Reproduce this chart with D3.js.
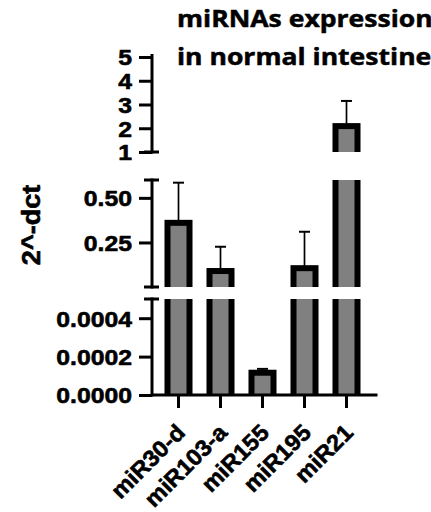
<!DOCTYPE html>
<html>
<head>
<meta charset="utf-8">
<script src="https://cdn.jsdelivr.net/npm/d3@7"></script>
<style>
  html, body { margin: 0; padding: 0; background: #fff; }
  svg { display: block; }
</style>
</head>
<body>
<svg id="chart" width="431" height="512"></svg>
<script>
// Relative expression (2^-dCt) per miRNA, mean and SD
const categories = ["miR30-d", "miR103-a", "miR155", "miR195", "miR21"];
const means = [0.36, 0.09, 0.000116, 0.106, 2.09];
const sds = [0.225, 0.136, 0.00002, 0.204, 1.06];

// Broken y axis: three stacked segments, bottom to top
const bottomDomain = [0, 0.0005];
const bottomTicks = [0, 0.0002, 0.0004];
const bottomTickLabels = ["0.0000", "0.0002", "0.0004"];
const middleDomain = [0.0005, 0.6];
const middleTicks = [0.25, 0.5];
const middleTickLabels = ["0.25", "0.50"];
const topDomain = [1, 5];
const topTicks = [1, 2, 3, 4, 5];
const topTickLabels = ["1", "2", "3", "4", "5"];

const titleLines = ["miRNAs expression", "in normal intestine"];
const yTitle = "2^-dct";

const svg = d3.select("#chart");
const axisX = 152;
const barFill = "#808080";
const barStroke = 6;
const axisWidth = 3;
const labelFont = "Liberation Sans, Arial, sans-serif";

// widen glyphs along the baseline by factor k
function stretch(sel, k) {
  sel.each(function () {
    const w = this.getComputedTextLength();
    this.setAttribute("textLength", w * k);
    this.setAttribute("lengthAdjust", "spacingAndGlyphs");
  });
}

// heavier bold: thin outline in the text colour
function heavy(sel, w) {
  sel.attr("stroke", "#000").attr("stroke-width", w).attr("stroke-linejoin", "round");
}

const x = d3.scaleBand()
  .domain(categories)
  .range([157.5, 367.5])
  .paddingInner(0.476)
  .paddingOuter(0.238);

const segments = [
  { id: "bottom", domain: bottomDomain, range: [395, 299], ticks: bottomTicks, labels: bottomTickLabels, capTop: true, capBottom: false },
  { id: "middle", domain: middleDomain, range: [287, 180], ticks: middleTicks, labels: middleTickLabels, capTop: true, capBottom: true },
  { id: "top", domain: topDomain, range: [152, 57], ticks: topTicks, labels: topTickLabels, capTop: false, capBottom: true }
];

const data = categories.map((c, i) => ({ cat: c, mean: means[i], sd: sds[i] }));

const defs = svg.append("defs");

segments.forEach(seg => {
  const y = d3.scaleLinear().domain(seg.domain).range(seg.range);
  const [y0, y1] = seg.range; // y0 bottom pixel, y1 top pixel

  defs.append("clipPath").attr("id", "clip-" + seg.id)
    .append("rect")
    .attr("x", axisX).attr("y", y1)
    .attr("width", 240).attr("height", y0 - y1);

  const g = svg.append("g").attr("clip-path", "url(#clip-" + seg.id + ")");

  const visible = data.filter(d => d.mean > seg.domain[0]);

  // error bars (upper only)
  const eb = g.selectAll(".err").data(visible).join("g").attr("class", "err");
  eb.append("line")
    .attr("x1", d => x(d.cat) + x.bandwidth() / 2)
    .attr("x2", d => x(d.cat) + x.bandwidth() / 2)
    .attr("y1", d => y(d.mean))
    .attr("y2", d => y(d.mean + d.sd))
    .attr("stroke", "#000").attr("stroke-width", 1.7);
  eb.append("line")
    .attr("x1", d => x(d.cat) + x.bandwidth() / 2 - 5.5)
    .attr("x2", d => x(d.cat) + x.bandwidth() / 2 + 5.5)
    .attr("y1", d => y(d.mean + d.sd))
    .attr("y2", d => y(d.mean + d.sd))
    .attr("stroke", "#000").attr("stroke-width", 2);

  // bars, running past the segment edges so only real tops keep their outline
  g.selectAll(".bar").data(visible).join("rect")
    .attr("class", "bar")
    .attr("x", d => x(d.cat))
    .attr("width", x.bandwidth())
    .attr("y", d => Math.max(y(d.mean), y1 - 10))
    .attr("height", d => (y0 + 10) - Math.max(y(d.mean), y1 - 10))
    .attr("fill", barFill)
    .attr("stroke", "#000")
    .attr("stroke-width", barStroke);

  // axis ticks and labels
  const ax = svg.append("g")
    .attr("transform", `translate(${axisX},0)`)
    .call(d3.axisLeft(y)
      .tickValues(seg.ticks)
      .tickFormat((d, i) => seg.labels[i])
      .tickSize(13)
      .tickPadding(7));
  ax.select(".domain").remove();
  ax.selectAll(".tick line").attr("stroke", "#000").attr("stroke-width", axisWidth);
  ax.selectAll(".tick text")
    .attr("font-size", 22.5)
    .attr("font-family", labelFont)
    .attr("font-weight", "bold")
    .attr("fill", "#000")
    .attr("dy", "0.35em")
    .call(heavy, 0.6)
    .call(stretch, 1.1);

  // segment spine with end caps
  svg.append("line")
    .attr("x1", axisX).attr("x2", axisX)
    .attr("y1", y0).attr("y2", y1 - (seg.capTop ? 0 : 1.5))
    .attr("stroke", "#000").attr("stroke-width", axisWidth)
    .attr("stroke-linecap", "square");
  const caps = [];
  if (seg.capTop) caps.push(y1);
  if (seg.capBottom) caps.push(y0);
  svg.selectAll(null).data(caps).join("line")
    .attr("x1", axisX - 8).attr("x2", axisX + 7)
    .attr("y1", d => d).attr("y2", d => d)
    .attr("stroke", "#000").attr("stroke-width", axisWidth);
});

// x axis
const baseY = 395;
svg.append("line")
  .attr("x1", axisX).attr("x2", x.range()[1] + 10)
  .attr("y1", baseY).attr("y2", baseY)
  .attr("stroke", "#000").attr("stroke-width", axisWidth);

const xa = svg.append("g")
  .attr("transform", `translate(0,${baseY})`)
  .call(d3.axisBottom(x).tickSize(13).tickSizeOuter(0));
xa.select(".domain").remove();
xa.selectAll(".tick line").attr("stroke", "#000").attr("stroke-width", axisWidth);
xa.selectAll(".tick text")
  .attr("font-size", 23)
  .attr("font-family", labelFont)
  .attr("font-weight", "bold")
  .attr("fill", "#000")
  .attr("text-anchor", "end")
  .attr("dy", 0)
  .attr("y", 0)
  .attr("transform", "translate(8,39) rotate(-45)")
  .call(heavy, 0.6)
  .call(stretch, 1.03);

// y axis title
svg.append("text")
  .attr("transform", "translate(40,225) rotate(-90)")
  .attr("text-anchor", "middle")
  .attr("font-family", labelFont)
  .attr("font-weight", "bold")
  .attr("font-size", 25)
  .attr("fill", "#000")
  .text(yTitle)
  .call(heavy, 0.6)
  .call(stretch, 1.08);

// chart title
svg.append("g").selectAll("text").data(titleLines).join("text")
  .attr("x", 177)
  .attr("y", (d, i) => 27 + i * 38)
  .attr("font-family", "Open Sans, sans-serif")
  .attr("font-weight", "bold")
  .attr("font-size", 23.5)
  .attr("fill", "#000")
  .text(d => d)
  .call(heavy, 0.5)
  .call(stretch, 1.13);
</script>
</body>
</html>
